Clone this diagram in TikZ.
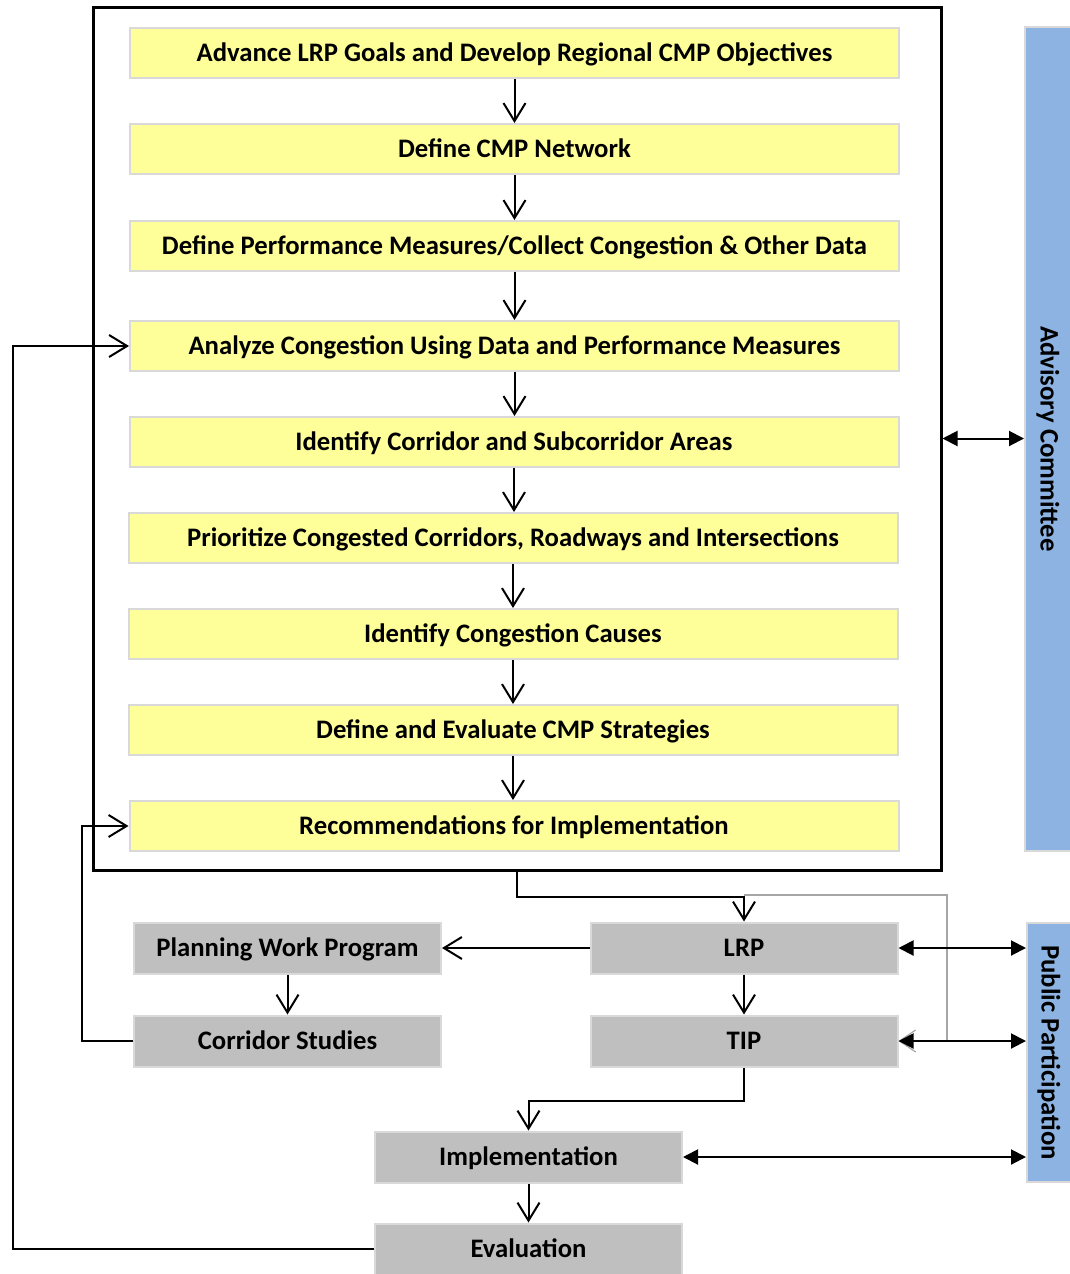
\documentclass[tikz,border=0pt]{standalone}
\usepackage{fontspec}
\setmainfont{Carlito}
\usetikzlibrary{arrows.meta}
\definecolor{yfill}{RGB}{255,255,153}
\definecolor{gfill}{RGB}{191,191,191}
\definecolor{bfill}{RGB}{141,179,226}
\definecolor{edge}{RGB}{217,217,217}
\newcommand{\boxfont}{\fontsize{26.7}{30}\selectfont\bfseries}
\tikzset{
  ybox/.style={draw=edge, line width=2pt, fill=yfill, minimum width=769pt, minimum height=50pt, inner sep=0pt, text height=16pt, text depth=0pt, font=\boxfont},
  gbox/.style={draw=edge, line width=2pt, fill=gfill, minimum width=307pt, minimum height=51pt, inner sep=0pt, text height=16pt, text depth=0pt, font=\boxfont},
  bbar/.style={draw=edge, line width=2pt, fill=bfill, inner sep=0pt, font=\boxfont},
  conn/.style={line width=2pt, black},
  oarr/.style={conn, -{Straight Barb[length=18pt,width=22pt]}},
  darr/.style={conn, {Triangle[length=15pt,width=15pt]}-{Triangle[length=15pt,width=15pt]}},
}
\begin{document}
\begin{tikzpicture}[x=1pt,y=-1pt]
\useasboundingbox (0,0) rectangle (1070,1274);
\node[draw, line width=3pt, minimum width=848pt, minimum height=863pt, inner sep=0pt] (outer) at (517,438.5) {};
\node[ybox] (b1) at (514.5,53) {Advance LRP Goals and Develop Regional CMP Objectives};
\node[ybox] (b2) at (514.5,149) {Define CMP Network};
\node[ybox] (b3) at (514.5,246) {Define Performance Measures/Collect Congestion \& Other Data};
\node[ybox] (b4) at (514.5,346) {Analyze Congestion Using Data and Performance Measures};
\node[ybox] (b5) at (514,442) {Identify Corridor and Subcorridor Areas};
\node[ybox] (b6) at (513,538) {Prioritize Congested Corridors, Roadways and Intersections};
\node[ybox] (b7) at (513,634) {Identify Congestion Causes};
\node[ybox] (b8) at (513,730) {Define and Evaluate CMP Strategies};
\node[ybox] (b9) at (514,826) {Recommendations for Implementation};
\node[bbar, minimum width=46pt, minimum height=824pt] (adv) at (1048,439) {\rotatebox[origin=c]{-90}{Advisory Committee}};
\node[bbar, minimum width=44pt, minimum height=259pt] (pp) at (1049,1052.5) {\rotatebox[origin=c]{-90}{Public Participation}};
\node[gbox] (pwp) at (287.5,948) {Planning Work Program};
\node[gbox] (lrp) at (744,948) {LRP};
\node[gbox] (cs) at (287.5,1041) {Corridor Studies};
\node[gbox] (tip) at (744,1041) {TIP};
\node[gbox] (impl) at (528.5,1157) {Implementation};
\node[gbox] (eval) at (528.5,1249) {Evaluation};
\coordinate (g1) at (947,895);
\coordinate (g2) at (947,1041);
% yellow chain
\foreach \a/\b in {b1/b2,b2/b3,b3/b4,b4/b5,b5/b6,b6/b7,b7/b8,b8/b9}
  \draw[oarr] (\a.south) -- (\a.south |- \b.north);
% advisory
\draw[darr] (outer.east) -- (outer.east -| adv.west);
% gray feedback line
\draw[line width=1.2pt, gray!70, -{Straight Barb[length=16pt,width=22pt]}] (lrp.north |- g1) -- (g1) -- (g2) -- (tip.east);
% outer to LRP
\draw[oarr] (outer.south) -- ++(0,25) -| (lrp.north);
\draw[oarr] (lrp.west) -- (pwp.east);
\draw[oarr] (pwp.south) -- (cs.north);
\draw[oarr] (lrp.south) -- (tip.north);
\draw[oarr] (tip.south) -- ++(0,33) -| (impl.north);
\draw[oarr] (impl.south) -- (eval.north);
\draw[darr] (lrp.east) -- (lrp.east -| pp.west);
\draw[darr] (tip.east) -- (tip.east -| pp.west);
\draw[darr] (impl.east) -- (impl.east -| pp.west);
\draw[oarr] (eval.west) -- ++(-361,0) |- (b4.west);
\draw[oarr] (cs.west) -- ++(-51,0) |- (b9.west);
\end{tikzpicture}
\end{document}
